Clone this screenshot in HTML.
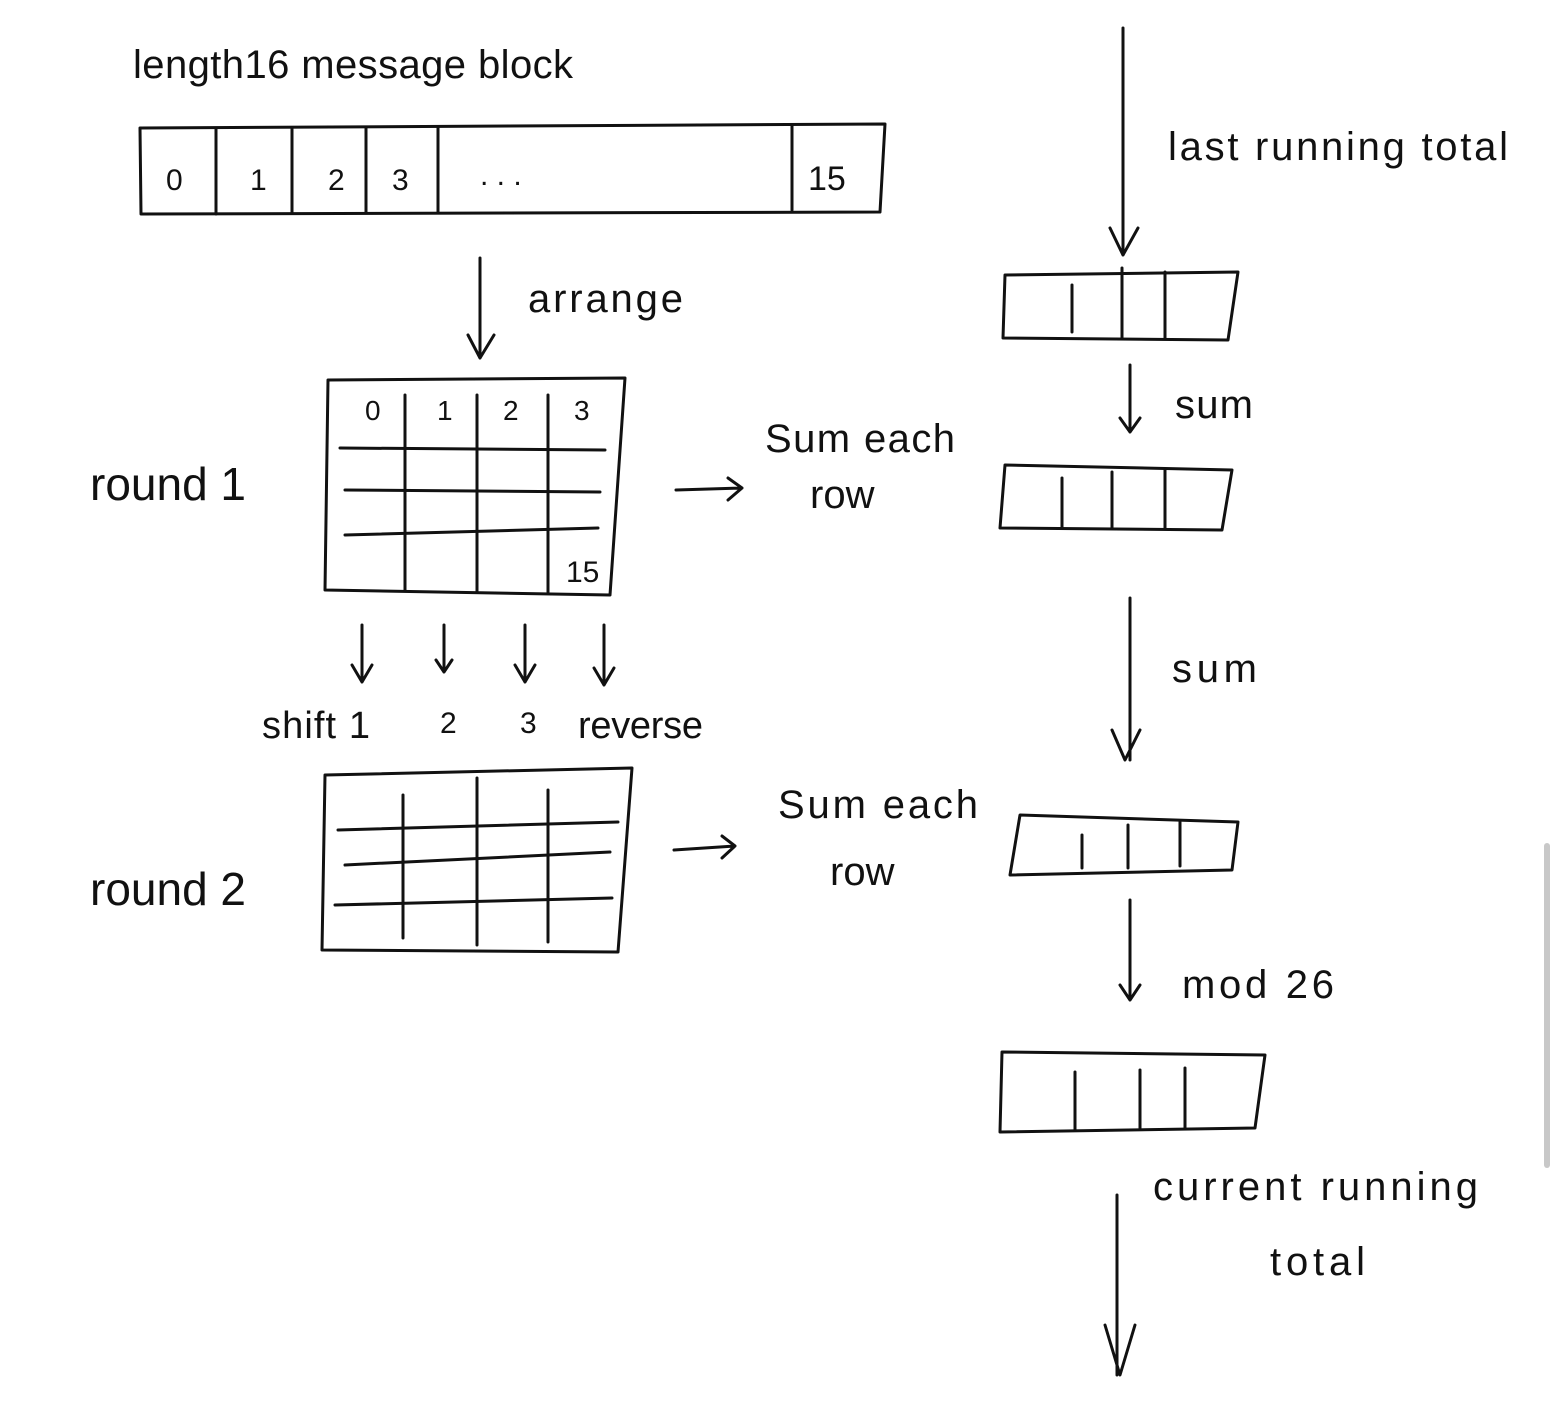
<!DOCTYPE html>
<html><head><meta charset="utf-8"><style>
html,body{margin:0;padding:0;background:#fff;}
svg{display:block;}
text{font-family:"Liberation Sans",sans-serif;fill:#111;font-weight:300;}
.s{stroke:#111;stroke-width:3;fill:none;stroke-linecap:round;stroke-linejoin:round;}
</style></head><body>
<svg width="1557" height="1412" viewBox="0 0 1557 1412">
<rect x="0" y="0" width="1557" height="1412" fill="#fff"/>
<rect x="1544" y="843" width="6" height="325" rx="3" fill="#c8c8c8"/>

<g>
<text x="133" y="78" font-size="40" textLength="440" lengthAdjust="spacing">length16  message block</text>
<path class="s" d="M140 128 L885 124 L880 212 L141 214 Z"/>
<path class="s" d="M216 128 V214 M292 128 V212 M366 128 V212 M438 128 V212 M792 126 V210"/>
<text x="166" y="190" font-size="30">0</text>
<text x="250" y="190" font-size="30">1</text>
<text x="328" y="190" font-size="30">2</text>
<text x="392" y="190" font-size="30">3</text>
<text x="480" y="185" font-size="30">. . .</text>
<text x="808" y="190" font-size="34">15</text>
</g>

<g>
<path class="s" d="M480 258 V358 M468 335 L480 358 L494 335"/>
<text x="528" y="312" font-size="40" textLength="155">arrange</text>
</g>

<g>
<text x="90" y="500" font-size="46">round 1</text>
<path class="s" d="M328 380 L625 378 L610 595 L325 590 Z"/>
<path class="s" d="M405 395 V590 M477 395 V592 M548 395 V592"/>
<path class="s" d="M340 448 L605 450 M345 490 L600 492 M345 535 L598 528"/>
<text x="365" y="420" font-size="28">0</text>
<text x="437" y="420" font-size="28">1</text>
<text x="503" y="420" font-size="28">2</text>
<text x="574" y="420" font-size="28">3</text>
<text x="566" y="582" font-size="30">15</text>
</g>
<g>
<path class="s" d="M676 490 L742 488 M728 478 L742 488 L728 500"/>
<text x="765" y="452" font-size="40" textLength="190">Sum each</text>
<text x="810" y="508" font-size="40">row</text>
</g>

<g>
<path class="s" d="M362 625 V682 M352 665 L362 682 L372 665"/>
<path class="s" d="M444 625 V672 M436 660 L444 672 L452 660"/>
<path class="s" d="M525 625 V682 M515 665 L525 682 L535 665"/>
<path class="s" d="M604 625 V685 M594 668 L604 685 L614 668"/>
<text x="262" y="738" font-size="38" textLength="108">shift 1</text>
<text x="440" y="733" font-size="30">2</text>
<text x="520" y="733" font-size="30">3</text>
<text x="578" y="738" font-size="38" textLength="125">reverse</text>
</g>

<g>
<text x="90" y="905" font-size="46">round 2</text>
<path class="s" d="M325 775 L632 768 L618 952 L322 950 Z"/>
<path class="s" d="M403 795 V938 M477 778 V945 M548 790 V942"/>
<path class="s" d="M338 830 L618 822 M345 865 L610 852 M335 905 L612 898"/>
</g>
<g>
<path class="s" d="M674 850 L735 846 M722 836 L735 846 L722 858"/>
<text x="778" y="818" font-size="40" textLength="200">Sum each</text>
<text x="830" y="885" font-size="40">row</text>
</g>

<g>
<path class="s" d="M1123 28 V255 M1110 228 L1123 255 L1138 228"/>
<text x="1168" y="160" font-size="40" textLength="340" lengthAdjust="spacing">last running total</text>
<path class="s" d="M1005 275 L1238 272 L1228 340 L1003 338 Z"/>
<path class="s" d="M1072 285 V332 M1122 268 V338 M1165 272 V338"/>
</g>
<g>
<path class="s" d="M1130 365 V432 M1120 418 L1130 432 L1140 418"/>
<text x="1175" y="418" font-size="40" textLength="78">sum</text>
<path class="s" d="M1005 465 L1232 470 L1222 530 L1000 528 Z"/>
<path class="s" d="M1062 478 V528 M1112 472 V528 M1165 470 V528"/>
</g>
<g>
<path class="s" d="M1130 598 V760 M1112 730 L1125 760 L1140 730"/>
<text x="1172" y="682" font-size="40" textLength="85">sum</text>
<path class="s" d="M1020 815 L1238 822 L1232 870 L1010 875 Z"/>
<path class="s" d="M1082 835 V868 M1128 825 V868 M1180 822 V866"/>
</g>
<g>
<path class="s" d="M1130 900 V1000 M1120 985 L1130 1000 L1140 985"/>
<text x="1182" y="998" font-size="40" textLength="152" lengthAdjust="spacing">mod 26</text>
<path class="s" d="M1002 1052 L1265 1055 L1255 1128 L1000 1132 Z"/>
<path class="s" d="M1075 1072 V1130 M1140 1070 V1128 M1185 1068 V1128"/>
</g>
<g>
<text x="1153" y="1200" font-size="40" textLength="325" lengthAdjust="spacing">current running</text>
<text x="1270" y="1275" font-size="40" textLength="95">total</text>
<path class="s" d="M1117 1195 V1375 M1105 1325 L1120 1375 L1135 1325"/>
</g>
</svg>
</body></html>
